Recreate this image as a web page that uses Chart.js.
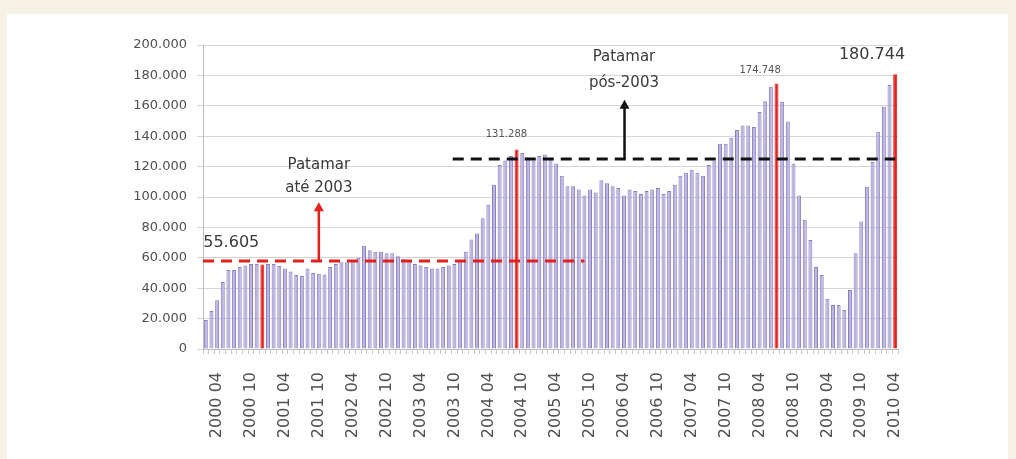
<!DOCTYPE html>
<html lang="pt">
<head>
<meta charset="UTF-8">
<title>Patamar</title>
<script src="https://cdn.jsdelivr.net/npm/chart.js"></script>
<style>
html,body{margin:0;padding:0;background:#f5f1e4;overflow:hidden;}
#painel{position:absolute;left:7px;top:14px;width:1001px;height:445px;background:#fff;}
canvas{display:block;}
</style>
</head>
<body>
<div id="painel"><canvas id="grafico" width="1001" height="445"></canvas></div>
<script>
// meses de 2000 02 a 2010 04
const inicioAno = 2000, inicioMes = 2, totalMeses = 123;
const meses = [];
for (let k = 0; k < totalMeses; k++) {
  const m = inicioMes - 1 + k;
  meses.push((inicioAno + Math.floor(m / 12)) + ' ' + String(m % 12 + 1).padStart(2, '0'));
}

// valores mensais
const valores = [
  19000, 25000, 32000, 44000, 52000, 52000, 54000, 55000, 56000, 56000,
  55605, 56000, 56000, 54600, 53000, 51000, 48700, 48000, 53000, 50000,
  49500, 49000, 54000, 56000, 57000, 57000, 57000, 60000, 68000, 65000,
  64000, 64000, 63000, 63000, 61000, 59000, 57000, 56000, 55000, 54000,
  53000, 53000, 54000, 55000, 56000, 58000, 64000, 72000, 76000, 86000,
  95000, 108000, 121000, 124000, 127000, 131288, 129000, 126000, 124000, 127000,
  128000, 125000, 122000, 114000, 107000, 107000, 105000, 101000, 105000, 103000,
  111000, 109000, 107000, 106000, 101000, 105000, 104000, 102000, 104000, 105000,
  106000, 102000, 104000, 108000, 114000, 116000, 118000, 116000, 114000, 121000,
  124000, 135000, 135000, 139000, 144000, 147000, 147000, 146000, 156000, 163000,
  172500, 174748, 162700, 149600, 122000, 101000, 85000, 71700, 54000, 48700,
  33000, 29000, 29000, 25700, 38800, 63000, 83800, 106800, 123000, 143000,
  159400, 173700, 180744
];

// meses em destaque (barras vermelhas)
const destaques = ['2000 12', '2004 09', '2008 07', '2010 04'];

// niveis de patamar
const patamarAte2003 = 57900;
const patamarPos2003 = 125000;

const yTicks = [0, 20000, 40000, 60000, 80000, 100000, 120000, 140000, 160000, 180000, 200000];

function fmt(v) {
  return String(v).replace(/\B(?=(\d{3})+(?!\d))/g, '.');
}

const corBarra = meses.map(m => destaques.includes(m) ? '#e3201b' : '#bcb4e0');
const corBorda = meses.map(m => destaques.includes(m) ? '#e3201b' : '#887ec2');

const anotacoes = {
  id: 'anotacoes',
  afterDatasetsDraw(chart) {
    const {ctx, chartArea, scales: {x, y}} = chart;
    ctx.save();

    // linhas tracejadas
    ctx.lineWidth = 3;
    ctx.setLineDash([11, 7]);
    ctx.strokeStyle = '#e3201b';
    ctx.beginPath();
    ctx.moveTo(chartArea.left, y.getPixelForValue(patamarAte2003));
    ctx.lineTo(x.getPixelForValue(67), y.getPixelForValue(patamarAte2003));
    ctx.stroke();
    ctx.strokeStyle = '#111';
    ctx.beginPath();
    ctx.moveTo(x.getPixelForValue(43.7), y.getPixelForValue(patamarPos2003));
    ctx.lineTo(x.getPixelForValue(122), y.getPixelForValue(patamarPos2003));
    ctx.stroke();
    ctx.setLineDash([]);

    // setas
    function seta(idx, de, ate, cor) {
      const px = x.getPixelForValue(idx);
      const y0 = y.getPixelForValue(de), y1 = y.getPixelForValue(ate);
      ctx.strokeStyle = cor; ctx.fillStyle = cor; ctx.lineWidth = 2.5;
      ctx.beginPath(); ctx.moveTo(px, y0); ctx.lineTo(px, y1 + 6); ctx.stroke();
      ctx.beginPath(); ctx.moveTo(px, y1); ctx.lineTo(px - 5, y1 + 9); ctx.lineTo(px + 5, y1 + 9); ctx.closePath(); ctx.fill();
    }
    seta(20, patamarAte2003, 96500, '#e3201b');
    seta(74.1, patamarPos2003, 164000, '#111');

    // textos
    function texto(t, idx, v, tam, cor) {
      ctx.font = tam + 'px "DejaVu Sans", sans-serif';
      ctx.fillStyle = cor;
      ctx.textAlign = 'center';
      ctx.textBaseline = 'middle';
      ctx.fillText(t, x.getPixelForValue(idx), y.getPixelForValue(v));
    }
    texto('Patamar', 20, 121000, 15, '#3a3a3a');
    texto('até 2003', 20, 106000, 15, '#3a3a3a');
    texto('Patamar', 74, 192000, 15, '#3a3a3a');
    texto('pós-2003', 74, 175000, 15, '#3a3a3a');
    texto(fmt(55605), 4.5, 70000, 16, '#3a3a3a');
    texto(fmt(131288), 53.2, 141400, 10, '#555');
    texto(fmt(174748), 98.1, 183000, 10, '#555');
    texto(fmt(180744), 117.9, 193400, 16, '#3a3a3a');

    ctx.restore();
  }
};

new Chart(document.getElementById('grafico'), {
  type: 'bar',
  data: {
    labels: meses,
    datasets: [{
      data: valores,
      backgroundColor: corBarra,
      borderColor: corBorda,
      borderWidth: 1,
      barPercentage: 0.7,
      categoryPercentage: 1
    }]
  },
  options: {
    responsive: false,
    animation: false,
    devicePixelRatio: 1,
    layout: {padding: {left: 100, right: 110, top: 31, bottom: 15}},
    plugins: {legend: {display: false}, tooltip: {enabled: false}},
    scales: {
      x: {
        afterFit(s) { s.height = 95; },
        grid: {display: true, drawOnChartArea: false, drawTicks: true, tickLength: 5, color: '#c8c8c8'},
        border: {color: '#bdbdbd'},
        ticks: {
          autoSkip: false,
          minRotation: 90,
          maxRotation: 90,
          padding: 18,
          color: '#505050',
          font: {family: '"DejaVu Sans", sans-serif', size: 16},
          callback: (v, i) => i % 6 === 2 ? meses[i] : ''
        }
      },
      y: {
        min: 0,
        max: 200000,
        afterFit(s) { s.width = 96; },
        afterBuildTicks(s) { s.ticks = yTicks.map(v => ({value: v})); },
        grid: {color: '#d6d6d6', tickLength: 6},
        border: {color: '#bdbdbd'},
        ticks: {
          padding: 10,
          color: '#505050',
          font: {family: '"DejaVu Sans", sans-serif', size: 13},
          callback: v => fmt(v)
        }
      }
    }
  },
  plugins: [anotacoes]
});
</script>
</body>
</html>
